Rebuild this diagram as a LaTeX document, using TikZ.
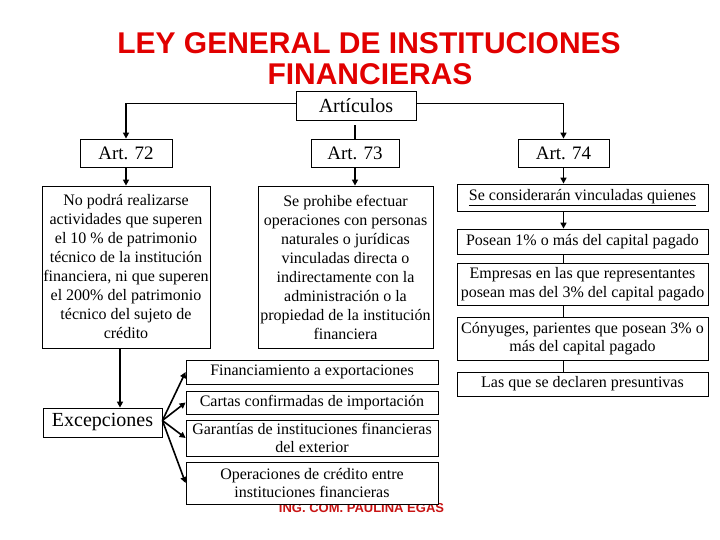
\documentclass[tikz,border=0pt]{standalone}
\usepackage{fontspec}
\setmainfont{Liberation Serif}
\newfontfamily\titlefont{Liberation Sans}
\usetikzlibrary{arrows.meta}
\definecolor{titlered}{RGB}{225,0,0}
\definecolor{footred}{RGB}{200,20,20}
\begin{document}
\begin{tikzpicture}[x=1pt,y=-1pt,
  box/.style={draw, line width=0.8pt, fill=white, inner sep=0pt, align=center,
              font=\fontsize{16}{18.5}\selectfont},
  conn/.style={line width=1.6pt},
  thinconn/.style={line width=0.8pt},
  arr/.style={conn, -{Triangle[length=6pt,width=6pt]}},
  titletext/.style={font=\titlefont\bfseries\fontsize{30}{32}\selectfont, text=titlered, anchor=base, inner sep=0pt},
]
\useasboundingbox (0,0) rectangle (720,540);
\node[titletext] (t1) at (369,54) {LEY GENERAL DE INSTITUCIONES};
\node[titletext] (t2) at (370,85) {FINANCIERAS};

\node[box, font=\fontsize{20}{22}\selectfont, minimum width=120pt, minimum height=29pt] (art) at (356,105.5) {Artículos};
\node[box, font=\fontsize{19}{21}\selectfont, minimum width=92pt, minimum height=28pt] (a72) at (126,153) {Art. 72};
\node[box, font=\fontsize{19}{21}\selectfont, minimum width=88pt, minimum height=28pt] (a73) at (355,153) {Art. 73};
\node[box, font=\fontsize{19}{21}\selectfont, minimum width=91pt, minimum height=28pt] (a74) at (563.5,153) {Art. 74};

\node[box, font=\fontsize{16}{19}\selectfont, minimum width=168pt, minimum height=162pt] (d72) at (126,267)
  {No podrá realizarse\\ actividades que superen\\ el 10 \% de patrimonio\\ técnico de la institución\\ financiera, ni que superen\\ el 200\% del patrimonio\\ técnico del sujeto de\\ crédito};
\node[box, font=\fontsize{16}{19}\selectfont, minimum width=175pt, minimum height=162pt] (d73) at (345.5,267)
  {Se prohibe efectuar\\ operaciones con personas\\ naturales o jurídicas\\ vinculadas directa o\\ indirectamente con la\\ administración o la\\ propiedad de la institución\\ financiera};

\node[box, minimum width=251pt, minimum height=27pt] (r1) at (582.5,197.5) {\underline{Se considerarán vinculadas quienes}};
\node[box, minimum width=251pt, minimum height=25pt] (r2) at (582.5,241.5) {Posean 1\% o más del capital pagado};
\node[box, minimum width=251pt, minimum height=42pt] (r3) at (582.5,284) {Empresas en las que representantes\\ posean mas del 3\% del capital pagado};
\node[box, minimum width=251pt, minimum height=43pt] (r4) at (582.5,338.5) {Cónyuges, parientes que posean 3\% o\\ más del capital pagado};
\node[box, minimum width=251pt, minimum height=24pt] (r5) at (582.5,384) {Las que se declaren presuntivas};

\node[box, font=\fontsize{20}{22}\selectfont, minimum width=119pt, minimum height=29pt] (exc) at (102.5,422.5) {Excepciones};

\node[font=\titlefont\bfseries\fontsize{13}{14}\selectfont, text=footred, anchor=base, inner sep=0pt] (foot) at (361.5,512) {ING. COM. PAULINA EGAS};

\node[box, minimum width=252pt, minimum height=24pt] (e1) at (312,372) {Financiamiento a exportaciones};
\node[box, minimum width=252pt, minimum height=23pt] (e2) at (312,402.5) {Cartas confirmadas de importación};
\node[box, minimum width=252pt, minimum height=36pt] (e3) at (312,438) {Garantías de instituciones financieras\\ del exterior};
\node[box, minimum width=252pt, minimum height=42pt] (e4) at (312,483) {Operaciones de crédito entre\\ instituciones financieras};

% connectors
\draw[arr] ([yshift=2pt]art.west) -| (a72.north);
\draw[arr] ([yshift=2pt]art.east) -| (a74.north);
\draw[conn] ([yshift=-5pt]a73.north |- art.south) -- (a73.north);
\draw[arr] (a72.south) -- (d72.north);
\draw[arr] (a73.south) -- (a73.south |- d73.north);
\draw[arr] (a74.south) -- (a74.south |- r1.north);
\draw[arr] (a74.south |- r1.south) -- (a74.south |- r2.north);
\draw[thinconn] (a74.south |- r2.south) -- (a74.south |- r3.north);
\draw[thinconn] (a74.south |- r3.south) -- (a74.south |- r4.north);
\draw[thinconn] (a74.south |- r4.south) -- (a74.south |- r5.north);
\draw[arr] ([xshift=-6pt]d72.south) -- ([xshift=-6pt]d72.south |- exc.north);

\coordinate (ex) at ([yshift=2pt]exc.east);
\draw[arr] (ex) -- (e1.west);
\draw[arr] (ex) -- (e2.west);
\draw[arr] (ex) -- (e3.west);
\draw[arr] (ex) -- (e4.west);
\end{tikzpicture}
\end{document}
